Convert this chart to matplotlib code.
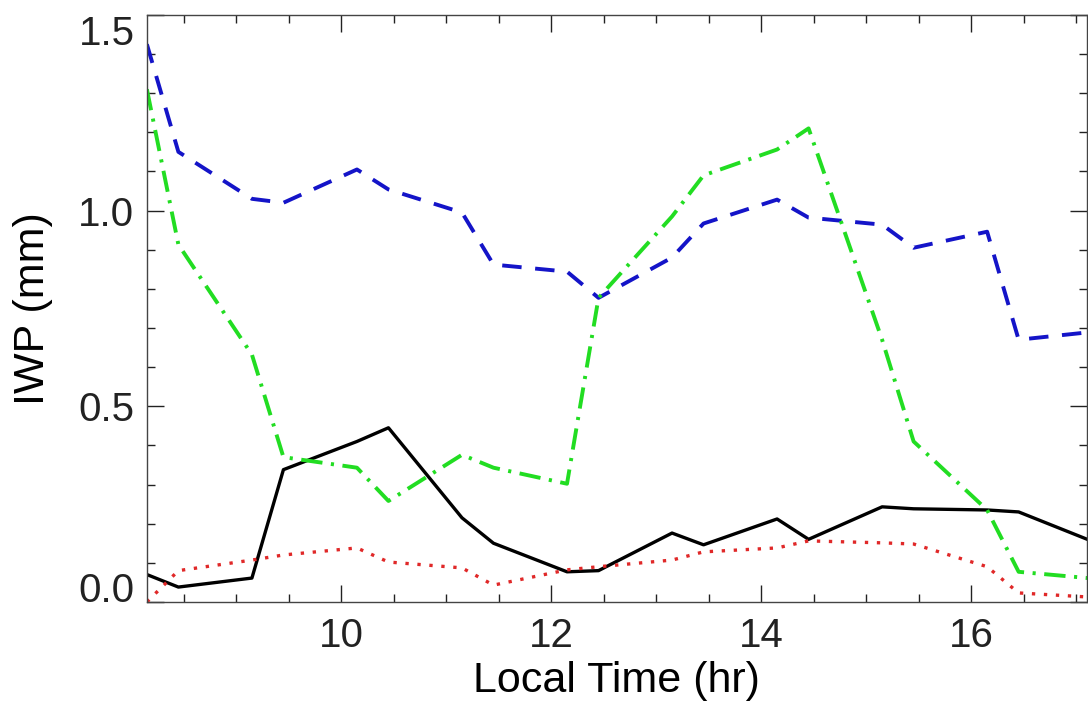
import matplotlib.pyplot as plt
from matplotlib.ticker import MultipleLocator

plt.rcParams['font.family'] = ['Liberation Sans', 'DejaVu Sans']

# local time samples (hr)
local_time = [8.15, 8.45, 9.15, 9.45, 10.15, 10.45, 11.15, 11.45, 12.15, 12.45,
              13.15, 13.45, 14.15, 14.45, 15.15, 15.45, 16.15, 16.45, 17.15]

# IWP (mm) for each curve
iwp_solid = [0.07, 0.038, 0.061, 0.338, 0.41, 0.445, 0.215, 0.15, 0.077, 0.08,
             0.176, 0.146, 0.212, 0.16, 0.243, 0.238, 0.235, 0.23, 0.155]
iwp_dashed = [1.425, 1.15, 1.03, 1.02, 1.105, 1.054, 0.995, 0.862, 0.844, 0.777,
              0.88, 0.967, 1.028, 0.982, 0.964, 0.905, 0.946, 0.67, 0.69]
iwp_dashdot = [1.31, 0.913, 0.632, 0.37, 0.343, 0.258, 0.376, 0.343, 0.302, 0.777,
               0.985, 1.09, 1.156, 1.21, 0.67, 0.41, 0.235, 0.077, 0.06]
iwp_dotted = [0.0, 0.08, 0.107, 0.12, 0.138, 0.102, 0.087, 0.043, 0.082, 0.09,
              0.107, 0.128, 0.138, 0.156, 0.151, 0.148, 0.09, 0.023, 0.012]

y_ticks = [0.0, 0.5, 1.0, 1.5]

fig = plt.figure(figsize=(10.88, 7.09), dpi=100)
ax = fig.add_axes([0.135, 0.151, 0.864, 0.828])

ax.plot(local_time, iwp_solid, color="black", linewidth=2.4, linestyle="-")
ax.plot(local_time, iwp_dashed, color="#1414c8", linewidth=2.8,
        linestyle=(0, (5, 3.5)))
ax.plot(local_time, iwp_dashdot, color="#22dd22", linewidth=2.8,
        linestyle=(0, (5.5, 2.2, 0.8, 2.2)))
ax.plot(local_time, iwp_dotted, color="#e02828", linewidth=2.4,
        linestyle=(0, (1, 2.6)))

ax.set_xlim(8.15, 17.1)
ax.set_ylim(0.0, 1.5)
ax.xaxis.set_major_locator(MultipleLocator(2))
ax.xaxis.set_minor_locator(MultipleLocator(0.5))
ax.set_yticks(y_ticks, ["%.1f" % v for v in y_ticks])
ax.yaxis.set_minor_locator(MultipleLocator(0.1))

ax.tick_params(which="both", direction="in", top=True, right=True,
               labelsize=29, colors="#222222", width=1.0)
ax.tick_params(which="major", length=12)
ax.tick_params(which="minor", length=6)
ax.tick_params(axis="x", pad=11)
ax.tick_params(axis="y", pad=9)
for spine in ax.spines.values():
    spine.set_color("#444444")
    spine.set_linewidth(1.0)

# keep the end labels inside the axis range, like the original
ylabels = ax.get_yticklabels()
ylabels[0].set_verticalalignment("baseline")
ylabels[-1].set_verticalalignment("top")

ax.set_xlabel("Local Time (hr)", fontsize=31, labelpad=4)
ax.set_ylabel("IWP (mm)", fontsize=31, labelpad=18)

fig.savefig("out.png", dpi=100)
